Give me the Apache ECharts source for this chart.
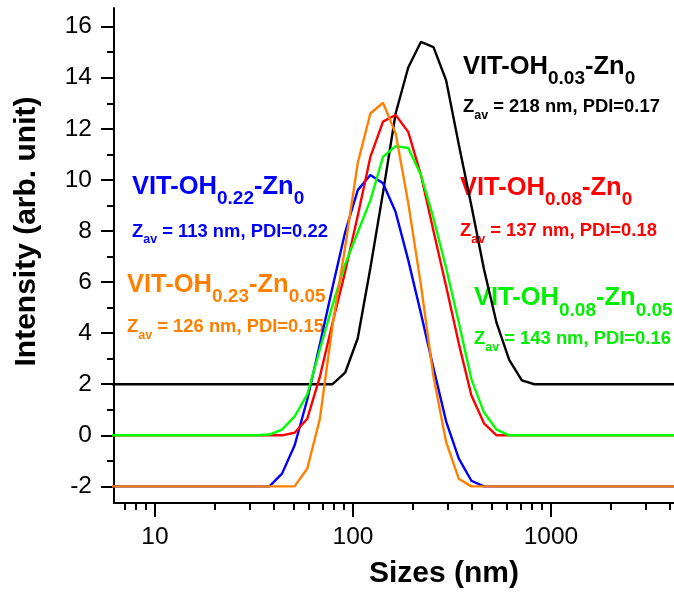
<!DOCTYPE html>
<html>
<head>
<meta charset="utf-8">
<script src="https://cdn.jsdelivr.net/npm/echarts@6/dist/echarts.min.js"></script>
<style>
  html, body { margin: 0; padding: 0; background: #ffffff; }
  #chart { width: 674px; height: 594px; }
</style>
</head>
<body>
<div id="chart"></div>
<script>
// DLS size classes (nm)
const sizes = [5.615, 6.503, 7.531, 8.721, 10.10, 11.70, 13.54, 15.69, 18.17, 21.04,
  24.36, 28.21, 32.67, 37.84, 43.82, 50.75, 58.77, 68.06, 78.82, 91.28,
  105.7, 122.4, 141.8, 164.2, 190.1, 220.2, 255.0, 295.3, 342.0, 396.1,
  458.7, 531.2, 615.1, 712.4, 825.0, 955.4, 1106, 1281, 1484, 1718,
  1990, 2305, 2669, 3091, 3580, 4145, 4801, 5560];

// Intensity curves, stacked with vertical offsets (+2, 0, 0, -2, -2)
const vitOH003Zn0 = [2, 2, 2, 2, 2, 2, 2, 2, 2, 2,
  2, 2, 2, 2, 2, 2, 2, 2, 2, 2.45,
  3.8, 6.55, 9.5, 12.6, 14.4, 15.4, 15.2, 13.9, 11.4, 9.0,
  6.5, 4.4, 2.95, 2.15, 2, 2, 2, 2, 2, 2,
  2, 2, 2, 2, 2, 2, 2, 2];
const vitOH008Zn0 = [0, 0, 0, 0, 0, 0, 0, 0, 0, 0,
  0, 0, 0, 0, 0, 0.1, 0.65, 2.3, 4.4, 6.4,
  8.6, 10.9, 12.28, 12.54, 11.88, 10.2, 8.0, 5.84, 3.6, 1.57,
  0.47, 0, 0, 0, 0, 0, 0, 0, 0, 0,
  0, 0, 0, 0, 0, 0, 0, 0];
const vitOH008Zn005 = [0, 0, 0, 0, 0, 0, 0, 0, 0, 0,
  0, 0, 0, 0.03, 0.22, 0.74, 1.6, 3.37, 5.1, 6.7,
  7.95, 9.2, 10.9, 11.32, 11.25, 10.2, 8.5, 6.55, 4.43, 2.2,
  0.9, 0.22, 0, 0, 0, 0, 0, 0, 0, 0,
  0, 0, 0, 0, 0, 0, 0, 0];
const vitOH022Zn0 = [-2, -2, -2, -2, -2, -2, -2, -2, -2, -2,
  -2, -2, -2, -2, -1.5, -0.39, 1.4, 3.57, 5.8, 7.95,
  9.6, 10.19, 9.87, 8.74, 6.86, 4.78, 2.63, 0.55, -0.9, -1.78,
  -2, -2, -2, -2, -2, -2, -2, -2, -2, -2,
  -2, -2, -2, -2, -2, -2, -2, -2];
const vitOH023Zn005 = [-2, -2, -2, -2, -2, -2, -2, -2, -2, -2,
  -2, -2, -2, -2, -2, -2, -1.3, 0.65, 4.3, 7.37,
  10.66, 12.6, 13.02, 11.82, 9.1, 5.9, 2.3, -0.26, -1.7, -2,
  -2, -2, -2, -2, -2, -2, -2, -2, -2, -2,
  -2, -2, -2, -2, -2, -2, -2, -2];

// Axis ticks and labels
const xLabelValues = [10, 100, 1000];
const xMinorTicks = [7, 8, 9, 20, 30, 40, 50, 60, 70, 80, 90,
  200, 300, 400, 500, 600, 700, 800, 900, 2000, 3000, 4000];
const yLabelValues = [-2, 0, 2, 4, 6, 8, 10, 12, 14, 16];
const yMinorTicks = [-1, 1, 3, 5, 7, 9, 11, 13, 15];

const FONT = "'Liberation Sans', Arial, Helvetica, sans-serif";
const X_RANGE = { min: 6.21, max: 4180 };
const Y_RANGE = { min: -2.65, max: 16.73 };

const curves = [
  { name: 'VIT-OH0.03-Zn0', values: vitOH003Zn0, color: '#000000' },
  { name: 'VIT-OH0.22-Zn0', values: vitOH022Zn0, color: '#0000ff' },
  { name: 'VIT-OH0.08-Zn0', values: vitOH008Zn0, color: '#ff0000' },
  { name: 'VIT-OH0.08-Zn0.05', values: vitOH008Zn005, color: '#00ff00' },
  { name: 'VIT-OH0.23-Zn0.05', values: vitOH023Zn005, color: '#ff8000' }
];

// Sample annotations: name with subscripts, then Z-average and PDI
const notes = [
  { color: '#000000', x: 463, y1: 66, y2: 107, parts: ['0.03', '0'], z: '218', pdi: '0.17' },
  { color: '#0000ff', x: 132, y1: 186, y2: 231.5, parts: ['0.22', '0'], z: '113', pdi: '0.22' },
  { color: '#ff0000', x: 460, y1: 187, y2: 230.7, parts: ['0.08', '0'], z: '137', pdi: '0.18' },
  { color: '#ff8000', x: 127, y1: 284, y2: 327, parts: ['0.23', '0.05'], z: '126', pdi: '0.15' },
  { color: '#00ee00', x: 474, y1: 297.5, y2: 339, parts: ['0.08', '0.05'], z: '143', pdi: '0.16' }
];

const graphics = [];
notes.forEach(function (n) {
  graphics.push({
    type: 'text', x: n.x, y: n.y1 - 12.5, silent: true,
    style: {
      x: 0, y: 0, align: 'left', verticalAlign: 'top', fill: n.color,
      text: '{m|VIT-OH}{s|' + n.parts[0] + '}{m|-Zn}{s|' + n.parts[1] + '}',
      rich: {
        m: { fontFamily: FONT, fontWeight: 'bold', fontSize: 25.5, verticalAlign: 'top', fill: n.color },
        s: { fontFamily: FONT, fontWeight: 'bold', fontSize: 19, verticalAlign: 'top', padding: [16, 0, 0, 0], fill: n.color }
      }
    }
  });
  graphics.push({
    type: 'text', x: n.x, y: n.y2 - 9, silent: true,
    style: {
      x: 0, y: 0, align: 'left', verticalAlign: 'top', fill: n.color,
      text: '{z|Z}{a|av}{z| = ' + n.z + ' nm, PDI=' + n.pdi + '}',
      rich: {
        z: { fontFamily: FONT, fontWeight: 'bold', fontSize: 18.4, verticalAlign: 'top', fill: n.color },
        a: { fontFamily: FONT, fontWeight: 'bold', fontSize: 12.5, verticalAlign: 'top', padding: [11, 0, 0, 0], fill: n.color }
      }
    }
  });
});

const chart = echarts.init(document.getElementById('chart'), null, { renderer: 'canvas' });

const tickStyle = { color: '#000', width: 2 };

// Helper for a tick-only axis (no line, no labels)
function tickAxis(kind, values, length) {
  const base = kind === 'x'
    ? { type: 'log', logBase: 10, min: X_RANGE.min, max: X_RANGE.max, position: 'bottom' }
    : { type: 'value', min: Y_RANGE.min, max: Y_RANGE.max, position: 'left' };
  return Object.assign(base, {
    axisLine: { show: false, onZero: false },
    axisTick: { show: true, inside: false, length: length, customValues: values, lineStyle: tickStyle },
    axisLabel: { show: false },
    splitLine: { show: false },
    minorTick: { show: false }
  });
}

chart.setOption({
  animation: false,
  backgroundColor: '#ffffff',
  grid: { left: 114, right: 0, top: 8, bottom: 91, outerBoundsMode: 'none' },
  xAxis: [
    {
      type: 'log', logBase: 10, min: X_RANGE.min, max: X_RANGE.max, position: 'bottom',
      axisLine: { show: true, onZero: false, lineStyle: { color: '#000', width: 2 } },
      axisTick: { show: false },
      axisLabel: { show: true, customValues: xLabelValues, margin: 22, color: '#000', fontSize: 24.5, fontFamily: FONT,
        formatter: function (v) { return String(Math.round(v)); } },
      splitLine: { show: false },
      minorTick: { show: false },
      name: 'Sizes (nm)', nameLocation: 'middle', nameGap: 56,
      nameTextStyle: { color: '#000', fontSize: 30, fontWeight: 'bold', fontFamily: FONT, padding: [0, 0, 0, 100] }
    },
    tickAxis('x', xLabelValues, 14),
    tickAxis('x', xMinorTicks, 7)
  ],
  yAxis: [
    {
      type: 'value', min: Y_RANGE.min, max: Y_RANGE.max, position: 'left',
      axisLine: { show: true, onZero: false, lineStyle: { color: '#000', width: 2 } },
      axisTick: { show: false },
      axisLabel: { show: true, customValues: yLabelValues, margin: 22, color: '#000', fontSize: 24.5, fontFamily: FONT },
      splitLine: { show: false },
      name: 'Intensity (arb. unit)', nameLocation: 'middle', nameGap: 72,
      nameTextStyle: { color: '#000', fontSize: 30, fontWeight: 'bold', fontFamily: FONT, padding: [0, 0, 0, 48] }
    },
    tickAxis('y', yLabelValues, 13),
    tickAxis('y', yMinorTicks, 7)
  ],
  series: curves.map(function (c) {
    return {
      type: 'line', name: c.name, xAxisIndex: 0, yAxisIndex: 0,
      data: sizes.map(function (s, i) { return [s, c.values[i]]; }),
      showSymbol: false, symbol: 'none', clip: true,
      lineStyle: { color: c.color, width: 2.4 },
      itemStyle: { color: c.color }
    };
  }),
  graphic: graphics
});
</script>
</body>
</html>
